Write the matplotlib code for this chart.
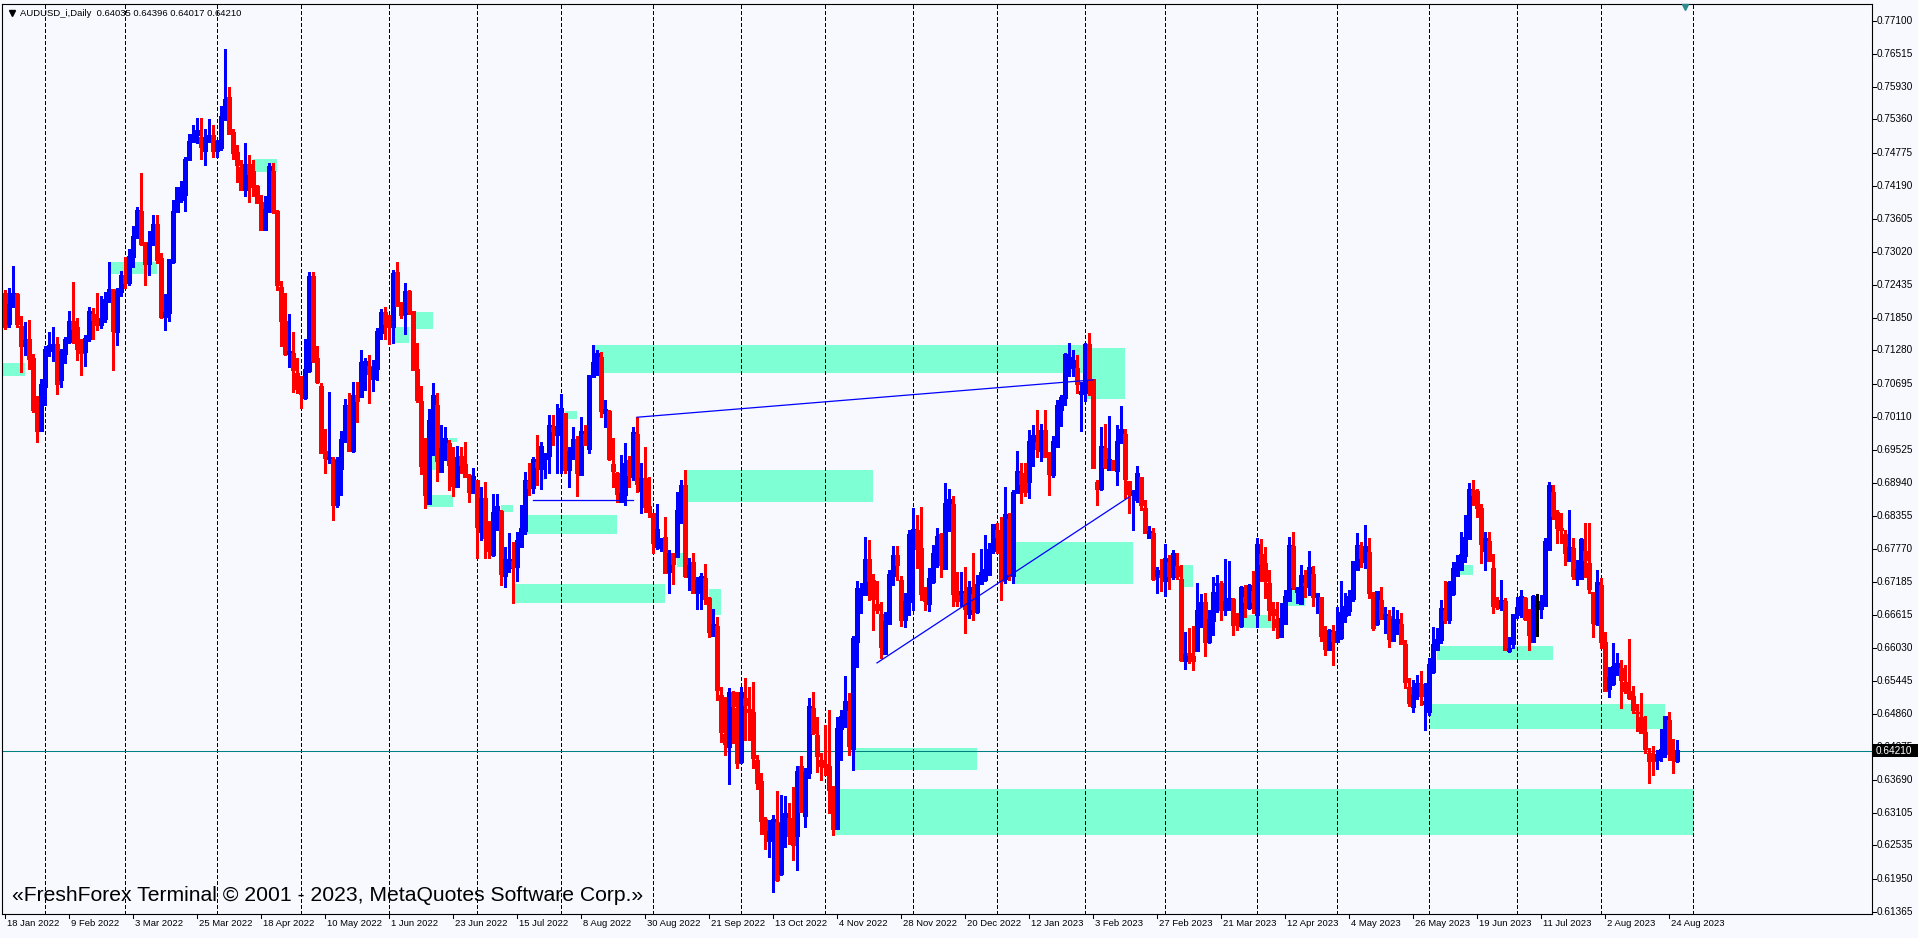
import numpy as np
import pandas as pd
import matplotlib
matplotlib.use('Agg')
import matplotlib.pyplot as plt
from matplotlib.patches import Rectangle
from matplotlib.lines import Line2D
from matplotlib.transforms import blended_transform_factory

plt.rcParams['font.family'] = ['Liberation Sans', 'DejaVu Sans']
plt.rcParams['lines.scale_dashes'] = False

W, H = 1918, 938
BG = '#F8F8FF'

# daily AUDUSD bars, prices in 1e-4 units
opens = [
    7229, 7176, 7208, 7226, 7171, 7136, 7147, 7113, 7026, 6987,
    7065, 7128, 7135, 7138, 7076, 7122, 7144, 7180, 7168, 7131,
    7126, 7149, 7192, 7183, 7173, 7185, 7217, 7235, 7161, 7232,
    7261, 7248, 7294, 7327, 7373, 7318, 7282, 7317, 7351, 7290,
    7188, 7195, 7285, 7374, 7394, 7403, 7466, 7498, 7510, 7504,
    7481, 7500, 7507, 7481, 7487, 7541, 7575, 7513, 7478, 7451,
    7413, 7456, 7444, 7418, 7390, 7342, 7375, 7445, 7373, 7239,
    7179, 7122, 7123, 7088, 7073, 7045, 7093, 7258, 7113, 7065,
    6949, 6937, 6936, 6855, 6920, 6969, 7029, 6952, 7049, 7046,
    7099, 7100, 7079, 7096, 7160, 7195, 7175, 7170, 7265, 7209,
    7193, 7233, 7196, 7095, 7037, 6921, 6858, 7002, 7030, 6914,
    6936, 6963, 6924, 6887, 6941, 6927, 6907, 6877, 6899, 6808,
    6866, 6817, 6767, 6841, 6843, 6730, 6745, 6756, 6747, 6782,
    6810, 6897, 6886, 6930, 6920, 6937, 6942, 6992, 6979, 6979,
    7017, 6918, 6951, 6970, 6908, 6980, 6954, 7082, 7105, 7115,
    7018, 7021, 6927, 6911, 6862, 6873, 6933, 6905, 6980, 6881,
    6902, 6852, 6840, 6781, 6780, 6797, 6737, 6770, 6764, 6843,
    6890, 6729, 6753, 6700, 6714, 6725, 6690, 6625, 6640, 6518,
    6450, 6429, 6524, 6496, 6402, 6514, 6493, 6488, 6403, 6366,
    6299, 6263, 6276, 6294, 6204, 6272, 6302, 6282, 6272, 6393,
    6307, 6382, 6496, 6447, 6403, 6396, 6393, 6352, 6284, 6460,
    6475, 6490, 6425, 6613, 6701, 6696, 6758, 6721, 6680, 6661,
    6593, 6646, 6731, 6765, 6721, 6652, 6684, 6790, 6810, 6778,
    6696, 6681, 6720, 6764, 6802, 6743, 6845, 6855, 6702, 6699,
    6698, 6664, 6696, 6667, 6716, 6724, 6733, 6775, 6810, 6799,
    6725, 6830, 6731, 6877, 6910, 6895, 6896, 6965, 6966, 6952,
    6987, 6942, 6908, 6959, 7024, 7045, 7101, 7098, 7096, 7052,
    7053, 7138, 7076, 6895, 6884, 6955, 6918, 6933, 6916, 6965,
    6980, 6897, 6873, 6864, 6903, 6848, 6798, 6804, 6731, 6731,
    6722, 6754, 6728, 6746, 6723, 6580, 6592, 6588, 6598, 6667,
    6683, 6613, 6651, 6714, 6717, 6670, 6684, 6688, 6652, 6642,
    6692, 6674, 6703, 6661, 6768, 6751, 6716, 6671, 6652, 6622,
    6645, 6686, 6781, 6703, 6681, 6716, 6711, 6733, 6694, 6691,
    6626, 6599, 6630, 6614, 6621, 6659, 6669, 6690, 6741, 6782,
    6755, 6771, 6699, 6645, 6686, 6655, 6658, 6615, 6643, 6643,
    6609, 6533, 6499, 6519, 6537, 6504, 6490, 6561, 6600, 6617,
    6668, 6652, 6699, 6731, 6741, 6765, 6796, 6880, 6879, 6849,
    6774, 6791, 6743, 6678, 6674, 6685, 6598, 6611, 6661, 6671,
    6689, 6654, 6614, 6677, 6672, 6678, 6777, 6877, 6842, 6813,
    6802, 6757, 6778, 6725, 6725, 6773, 6752, 6701, 6645, 6712,
    6612, 6531, 6539, 6569, 6566, 6542, 6526, 6516, 6489, 6480,
    6453, 6416, 6405, 6405, 6410, 6416, 6475, 6415, 6403.5,
]
highs = [
    7235, 7238, 7277, 7229, 7189, 7178, 7182, 7122, 7047, 7078,
    7136, 7161, 7170, 7151, 7130, 7151, 7197, 7249, 7186, 7149,
    7155, 7205, 7203, 7229, 7224, 7232, 7284, 7235, 7238, 7269,
    7293, 7307, 7348, 7382, 7441, 7320, 7339, 7368, 7368, 7300,
    7227, 7288, 7394, 7417, 7427, 7470, 7511, 7527, 7539, 7539,
    7520, 7536, 7526, 7500, 7559, 7661, 7594, 7519, 7491, 7464,
    7494, 7474, 7464, 7420, 7403, 7401, 7459, 7459, 7376, 7251,
    7230, 7192, 7161, 7115, 7083, 7148, 7267, 7266, 7136, 7071,
    6989, 7055, 6939, 6940, 6985, 7042, 7052, 7073, 7073, 7129,
    7115, 7120, 7112, 7168, 7202, 7205, 7190, 7270, 7285, 7214,
    7247, 7235, 7198, 7141, 7065, 6973, 7025, 7071, 7052, 6996,
    6993, 6970, 6958, 6959, 6958, 6967, 6909, 6920, 6899, 6887,
    6895, 6827, 6874, 6874, 6846, 6781, 6805, 6790, 6808, 6855,
    6913, 6930, 6939, 6979, 6966, 6946, 7014, 7014, 7033, 7051,
    7017, 6958, 6993, 6976, 7010, 6996, 7083, 7138, 7129, 7126,
    7040, 7023, 6973, 6914, 6943, 6964, 6942, 6992, 7010, 6929,
    6958, 6905, 6841, 6856, 6796, 6834, 6776, 6771, 6878, 6900,
    6917, 6761, 6771, 6728, 6735, 6750, 6693, 6672, 6658, 6534,
    6515, 6531, 6527, 6525, 6534, 6549, 6534, 6542, 6413, 6381,
    6303, 6299, 6307, 6349, 6343, 6341, 6328, 6357, 6394, 6412,
    6390, 6514, 6524, 6481, 6416, 6466, 6493, 6358, 6481, 6493,
    6553, 6522, 6624, 6720, 6718, 6799, 6793, 6733, 6720, 6684,
    6666, 6740, 6782, 6782, 6730, 6700, 6810, 6849, 6837, 6852,
    6710, 6743, 6784, 6814, 6805, 6893, 6884, 6871, 6737, 6737,
    6746, 6720, 6770, 6731, 6778, 6802, 6788, 6821, 6824, 6834,
    6887, 6840, 6881, 6950, 6929, 6929, 6988, 6996, 7023, 6998,
    7023, 6949, 6976, 7040, 7049, 7123, 7142, 7129, 7120, 7073,
    7142, 7158, 7077, 6899, 6993, 6998, 7012, 6934, 6996, 7030,
    6990, 6898, 6882, 6923, 6905, 6864, 6818, 6814, 6745, 6760,
    6786, 6767, 6775, 6771, 6749, 6631, 6637, 6641, 6717, 6698,
    6699, 6670, 6728, 6731, 6720, 6759, 6756, 6690, 6664, 6712,
    6714, 6715, 6738, 6796, 6795, 6780, 6741, 6683, 6683, 6681,
    6705, 6799, 6808, 6710, 6749, 6741, 6773, 6747, 6700, 6691,
    6641, 6636, 6643, 6675, 6720, 6699, 6705, 6756, 6806, 6789,
    6820, 6797, 6702, 6702, 6711, 6675, 6670, 6675, 6670, 6664,
    6616, 6549, 6546, 6555, 6561, 6541, 6584, 6640, 6637, 6687,
    6720, 6720, 6755, 6767, 6808, 6837, 6894, 6900, 6884, 6857,
    6808, 6808, 6768, 6693, 6722, 6690, 6622, 6662, 6693, 6705,
    6693, 6672, 6696, 6698, 6696, 6796, 6896, 6890, 6846, 6840,
    6811, 6847, 6796, 6758, 6797, 6823, 6823, 6702, 6740, 6726,
    6630, 6569, 6611, 6593, 6582, 6572, 6618, 6535, 6503, 6523,
    6482, 6425, 6429, 6422, 6459, 6482, 6490, 6441, 6439.6,
]
lows = [
    7166, 7170, 7205, 7170, 7090, 7120, 7096, 7020, 6967, 6985,
    7032, 7118, 7109, 7051, 7064, 7106, 7141, 7141, 7111, 7085,
    7100, 7144, 7148, 7165, 7167, 7179, 7214, 7093, 7138, 7225,
    7238, 7244, 7276, 7326, 7314, 7244, 7261, 7314, 7282, 7185,
    7164, 7180, 7282, 7373, 7391, 7375, 7465, 7497, 7494, 7466,
    7456, 7497, 7470, 7470, 7482, 7535, 7510, 7466, 7426, 7413,
    7400, 7391, 7400, 7389, 7341, 7341, 7373, 7370, 7235, 7135,
    7120, 7099, 7055, 7052, 7026, 7043, 7090, 7108, 7071, 6946,
    6911, 6929, 6828, 6852, 6873, 6967, 6952, 6949, 7002, 7045,
    7058, 7036, 7057, 7076, 7148, 7148, 7140, 7141, 7206, 7186,
    7157, 7193, 7093, 7037, 6910, 6850, 6857, 6943, 6898, 6914,
    6934, 6881, 6870, 6887, 6911, 6905, 6861, 6877, 6761, 6793,
    6761, 6761, 6764, 6811, 6714, 6711, 6737, 6681, 6720, 6782,
    6804, 6873, 6877, 6890, 6884, 6902, 6912, 6961, 6912, 6912,
    6912, 6886, 6936, 6870, 6908, 6961, 6946, 7082, 7085, 7011,
    6992, 6934, 6887, 6860, 6862, 6855, 6887, 6900, 6878, 6841,
    6843, 6834, 6771, 6778, 6773, 6734, 6699, 6715, 6764, 6823,
    6728, 6705, 6699, 6671, 6671, 6680, 6621, 6625, 6511, 6437,
    6413, 6362, 6435, 6390, 6400, 6440, 6440, 6390, 6354, 6274,
    6247, 6234, 6171, 6191, 6201, 6250, 6256, 6228, 6210, 6313,
    6287, 6372, 6450, 6384, 6369, 6378, 6310, 6272, 6284, 6405,
    6463, 6413, 6387, 6569, 6664, 6696, 6687, 6634, 6664, 6584,
    6592, 6645, 6714, 6722, 6641, 6640, 6660, 6669, 6743, 6687,
    6670, 6667, 6717, 6746, 6728, 6743, 6809, 6677, 6677, 6677,
    6629, 6656, 6652, 6665, 6716, 6721, 6731, 6770, 6770, 6688,
    6717, 6722, 6717, 6876, 6859, 6870, 6868, 6923, 6940, 6932,
    6940, 6873, 6905, 6959, 6995, 7032, 7082, 7082, 7052, 6985,
    7038, 7049, 6920, 6855, 6881, 6920, 6917, 6917, 6890, 6964,
    6867, 6840, 6811, 6861, 6846, 6805, 6796, 6723, 6699, 6703,
    6694, 6707, 6725, 6725, 6580, 6566, 6576, 6564, 6598, 6640,
    6589, 6611, 6625, 6666, 6651, 6661, 6670, 6625, 6634, 6640,
    6658, 6672, 6665, 6640, 6721, 6690, 6652, 6634, 6620, 6622,
    6645, 6686, 6706, 6681, 6681, 6693, 6696, 6677, 6665, 6614,
    6590, 6599, 6572, 6614, 6619, 6648, 6661, 6685, 6741, 6745,
    6743, 6690, 6635, 6643, 6655, 6628, 6605, 6615, 6627, 6610,
    6531, 6500, 6490, 6513, 6502, 6457, 6484, 6558, 6599, 6612,
    6647, 6647, 6696, 6730, 6740, 6755, 6796, 6855, 6834, 6753,
    6741, 6757, 6664, 6671, 6670, 6598, 6596, 6602, 6655, 6658,
    6652, 6599, 6614, 6624, 6655, 6678, 6775, 6831, 6787, 6788,
    6749, 6757, 6724, 6714, 6725, 6728, 6699, 6622, 6643, 6602,
    6528, 6515, 6537, 6555, 6497, 6522, 6513, 6487, 6455, 6452,
    6416, 6364, 6378, 6388, 6403, 6410, 6405, 6381, 6401.7,
]
closes = [
    7170, 7210, 7228, 7176, 7136, 7146, 7113, 7023, 6987, 7067,
    7129, 7136, 7138, 7069, 7127, 7148, 7180, 7166, 7131, 7125,
    7149, 7196, 7182, 7173, 7185, 7218, 7235, 7163, 7232, 7261,
    7248, 7294, 7330, 7375, 7317, 7282, 7317, 7351, 7288, 7188,
    7195, 7288, 7374, 7416, 7410, 7466, 7498, 7510, 7516, 7488,
    7504, 7507, 7481, 7498, 7541, 7572, 7512, 7477, 7457, 7413,
    7456, 7441, 7417, 7389, 7342, 7377, 7453, 7373, 7244, 7181,
    7122, 7127, 7095, 7061, 7052, 7095, 7258, 7111, 7073, 6947,
    6939, 6939, 6855, 6934, 6970, 7030, 6952, 7049, 7039, 7107,
    7108, 7088, 7098, 7161, 7195, 7175, 7170, 7264, 7207, 7192,
    7232, 7196, 7095, 7042, 6924, 6873, 7005, 7048, 6934, 6954,
    6973, 6926, 6890, 6939, 6926, 6905, 6878, 6905, 6817, 6866,
    6798, 6775, 6841, 6853, 6734, 6758, 6758, 6747, 6793, 6814,
    6899, 6886, 6936, 6923, 6958, 6943, 6995, 6986, 6993, 7026,
    6918, 6950, 6970, 6912, 6984, 6961, 7083, 7107, 7123, 7022,
    7024, 6937, 6916, 6876, 6875, 6929, 6908, 6983, 6893, 6902,
    6853, 6843, 6788, 6811, 6796, 6735, 6770, 6752, 6846, 6890,
    6730, 6748, 6700, 6721, 6728, 6690, 6631, 6644, 6529, 6455,
    6434, 6524, 6500, 6400, 6524, 6502, 6490, 6409, 6364, 6297,
    6274, 6278, 6299, 6193, 6293, 6310, 6272, 6256, 6385, 6313,
    6382, 6499, 6453, 6412, 6394, 6393, 6352, 6284, 6460, 6481,
    6508, 6431, 6619, 6708, 6702, 6758, 6722, 6689, 6671, 6605,
    6649, 6733, 6765, 6749, 6652, 6684, 6802, 6812, 6778, 6699,
    6687, 6725, 6770, 6799, 6749, 6857, 6865, 6699, 6687, 6702,
    6672, 6709, 6672, 6715, 6735, 6741, 6777, 6820, 6800, 6722,
    6839, 6734, 6877, 6914, 6893, 6879, 6968, 6977, 6955, 6987,
    6940, 6910, 6968, 7030, 7045, 7121, 7116, 7111, 7070, 7055,
    7138, 7076, 6921, 6884, 6959, 6923, 6936, 6918, 6967, 6989,
    6902, 6876, 6879, 6910, 6855, 6806, 6808, 6725, 6740, 6728,
    6760, 6730, 6770, 6730, 6582, 6590, 6590, 6581, 6668, 6682,
    6614, 6653, 6701, 6717, 6670, 6685, 6690, 6643, 6651, 6710,
    6684, 6712, 6684, 6786, 6752, 6721, 6671, 6661, 6641, 6655,
    6694, 6784, 6711, 6707, 6730, 6714, 6744, 6693, 6699, 6625,
    6602, 6633, 6615, 6631, 6665, 6675, 6694, 6755, 6783, 6763,
    6781, 6700, 6639, 6702, 6655, 6661, 6619, 6653, 6653, 6611,
    6543, 6506, 6519, 6540, 6518, 6507, 6574, 6608, 6618, 6672,
    6652, 6718, 6743, 6753, 6767, 6797, 6883, 6874, 6850, 6787,
    6796, 6757, 6677, 6675, 6687, 6599, 6602, 6661, 6674, 6693,
    6654, 6627, 6693, 6677, 6685, 6790, 6890, 6837, 6815, 6811,
    6771, 6780, 6730, 6741, 6794, 6758, 6708, 6647, 6718, 6614,
    6528, 6551, 6569, 6575, 6546, 6528, 6515, 6493, 6488, 6453,
    6425, 6403, 6404, 6415, 6423, 6482, 6416, 6405, 6421,
]

# rectangles drawn on the chart: bar index span and price span
box_start = [-2, 26, 62, 97, 102, 106.5, 111, 105, 124, 140, 134, 147, 270, 130.5,
             127, 170, 168, 176, 212, 207, 252, 294, 308, 320.5, 363.5, 358, 356]
box_end = [5, 38, 68, 101, 107, 108, 113, 112, 127, 143, 135, 270, 280, 153,
           165, 217, 170, 179, 243, 422.3, 282, 297, 317, 325, 367, 387, 415]
box_top = [0.7106, 0.7284, 0.7466, 0.7169, 0.7196, 0.6950, 0.6973, 0.6873, 0.6855,
           0.7021, 0.6922, 0.7138, 0.7132, 0.6837, 0.6715, 0.6917, 0.6770, 0.6707,
           0.6426, 0.6353, 0.6790, 0.6749, 0.6661, 0.6708, 0.6749, 0.6606, 0.6503]
box_bottom = [0.7083, 0.7263, 0.7443, 0.7141, 0.7166, 0.6917, 0.6966, 0.6851, 0.6843,
              0.7007, 0.6899, 0.7088, 0.7042, 0.6804, 0.6682, 0.6860, 0.6745, 0.6661,
              0.6387, 0.6272, 0.6715, 0.6710, 0.6638, 0.6677, 0.6731, 0.6581, 0.6459]

# trend lines: (bar, price) -> (bar, price)
trend_x0 = [132, 158, 218]
trend_p0 = [0.6864, 0.7010, 0.6576]
trend_x1 = [157, 272, 281]
trend_p1 = [0.6864, 0.7076, 0.6869]

price_labels = ['0.77100', '0.76515', '0.75930', '0.75360', '0.74775', '0.74190', '0.73605',
                '0.73020', '0.72435', '0.71850', '0.71280', '0.70695', '0.70110', '0.69525',
                '0.68940', '0.68355', '0.67770', '0.67185', '0.66615', '0.66030', '0.65445',
                '0.64860', '0.64275', '0.63690', '0.63105', '0.62535', '0.61950', '0.61365']
last_price = 0.64210
header = 'AUDUSD_i,Daily  0.64035 0.64396 0.64017 0.64210'
watermark = '«FreshForex Terminal © 2001 - 2023, MetaQuotes Software Corp.»'

o = np.array(opens) / 10000.0
h = np.array(highs) / 10000.0
l = np.array(lows) / 10000.0
c = np.array(closes) / 10000.0
n = len(c)
x = np.arange(n)

alldays = pd.bdate_range('2022-01-18', '2023-12-29')
alldays = alldays[alldays != pd.Timestamp('2022-12-26')]

fig = plt.figure(figsize=(W / 100, H / 100), dpi=100, facecolor=BG)
ax = fig.add_axes([2 / W, 24 / H, 1870 / W, 910 / H])
ax.set_facecolor(BG)
ax.set_xlim(-0.75, 466.75)
ax.set_ylim(0.613245, 0.774003)
ax.set_xticks([])
ax.set_yticks([])
for sp in ax.spines.values():
    sp.set_color('black')
    sp.set_linewidth(0.8)

for s, e, t, b in zip(box_start, box_end, box_top, box_bottom):
    ax.add_patch(Rectangle((s, b), e - s, t - b, facecolor='#7FFFD4', lw=0, zorder=1))

# monthly separators
for i in range(1, 426):
    if alldays[i].month != alldays[i - 1].month:
        ax.axvline(i, color='black', lw=0.75, dashes=(2.2, 1.5), zorder=2, antialiased=False)

ax.axhline(last_price, color='#008080', lw=0.75, zorder=2.5)

# candles: 1px wicks, 3px bodies, at least 1px tall
px_price = (0.774003 - 0.613245) / 910
cols = np.where(c > o, '#0000FF', np.where(c < o, '#FF0000', '#000000'))
ax.vlines(x, l, h, colors=cols, lw=0.75, zorder=3, antialiased=False)
bot = np.minimum(o, c) - 0.5 * px_price
top = np.maximum(o, c) + 0.5 * px_price
ax.vlines(x, bot, top, colors=cols, lw=2.2, zorder=3, antialiased=False,
          capstyle='butt')

for a, pa, b, pb in zip(trend_x0, trend_p0, trend_x1, trend_p1):
    ax.plot([a, b], [pa, pb], color='#0000FF', lw=0.9, zorder=4)

# price scale
ty = blended_transform_factory(ax.transAxes, ax.transData)
for lab in price_labels:
    p = float(lab)
    ax.plot([1, 1 + 4 / 1870], [p, p], transform=ty, color='black', lw=0.75, clip_on=False)
    ax.text(1 + 5 / 1870, p, lab, transform=ty, fontsize=7.2, va='center', ha='left',
            clip_on=False)

# date scale
tx = blended_transform_factory(ax.transData, ax.transAxes)
for i in range(0, n, 16):
    d = alldays[i]
    ax.plot([i, i], [0, -4 / 910], transform=tx, color='black', lw=0.75, clip_on=False)
    ax.text(i + 0.5, -5 / 910, f'{d.day} {d.strftime("%b %Y")}', transform=tx,
            fontsize=6.8, va='top', ha='left', clip_on=False)

# last price marker on the scale
fig.patches.append(Rectangle((1873 / W, 1 - 757 / H), 45 / W, 13 / H,
                             transform=fig.transFigure, facecolor='black', lw=0, zorder=5))
fig.text(1876 / W, 1 - 750.5 / H, f'{last_price:.5f}', color='white', fontsize=7.2,
         va='center', ha='left', zorder=6)

fig.add_artist(Line2D([12 / W], [1 - 13 / H], marker='v', ms=4, color='black',
                      transform=fig.transFigure))
fig.text(20 / W, 1 - 13 / H, header, fontsize=6.8, va='center', ha='left')
fig.add_artist(Line2D([1685 / W], [1 - 7 / H], marker='v', ms=5, color='#2E8B8B',
                      transform=fig.transFigure))
fig.text(12 / W, 1 - 895 / H, watermark, fontsize=15.2, va='center', ha='left')

fig.savefig('out.png', dpi=100, facecolor=BG)
